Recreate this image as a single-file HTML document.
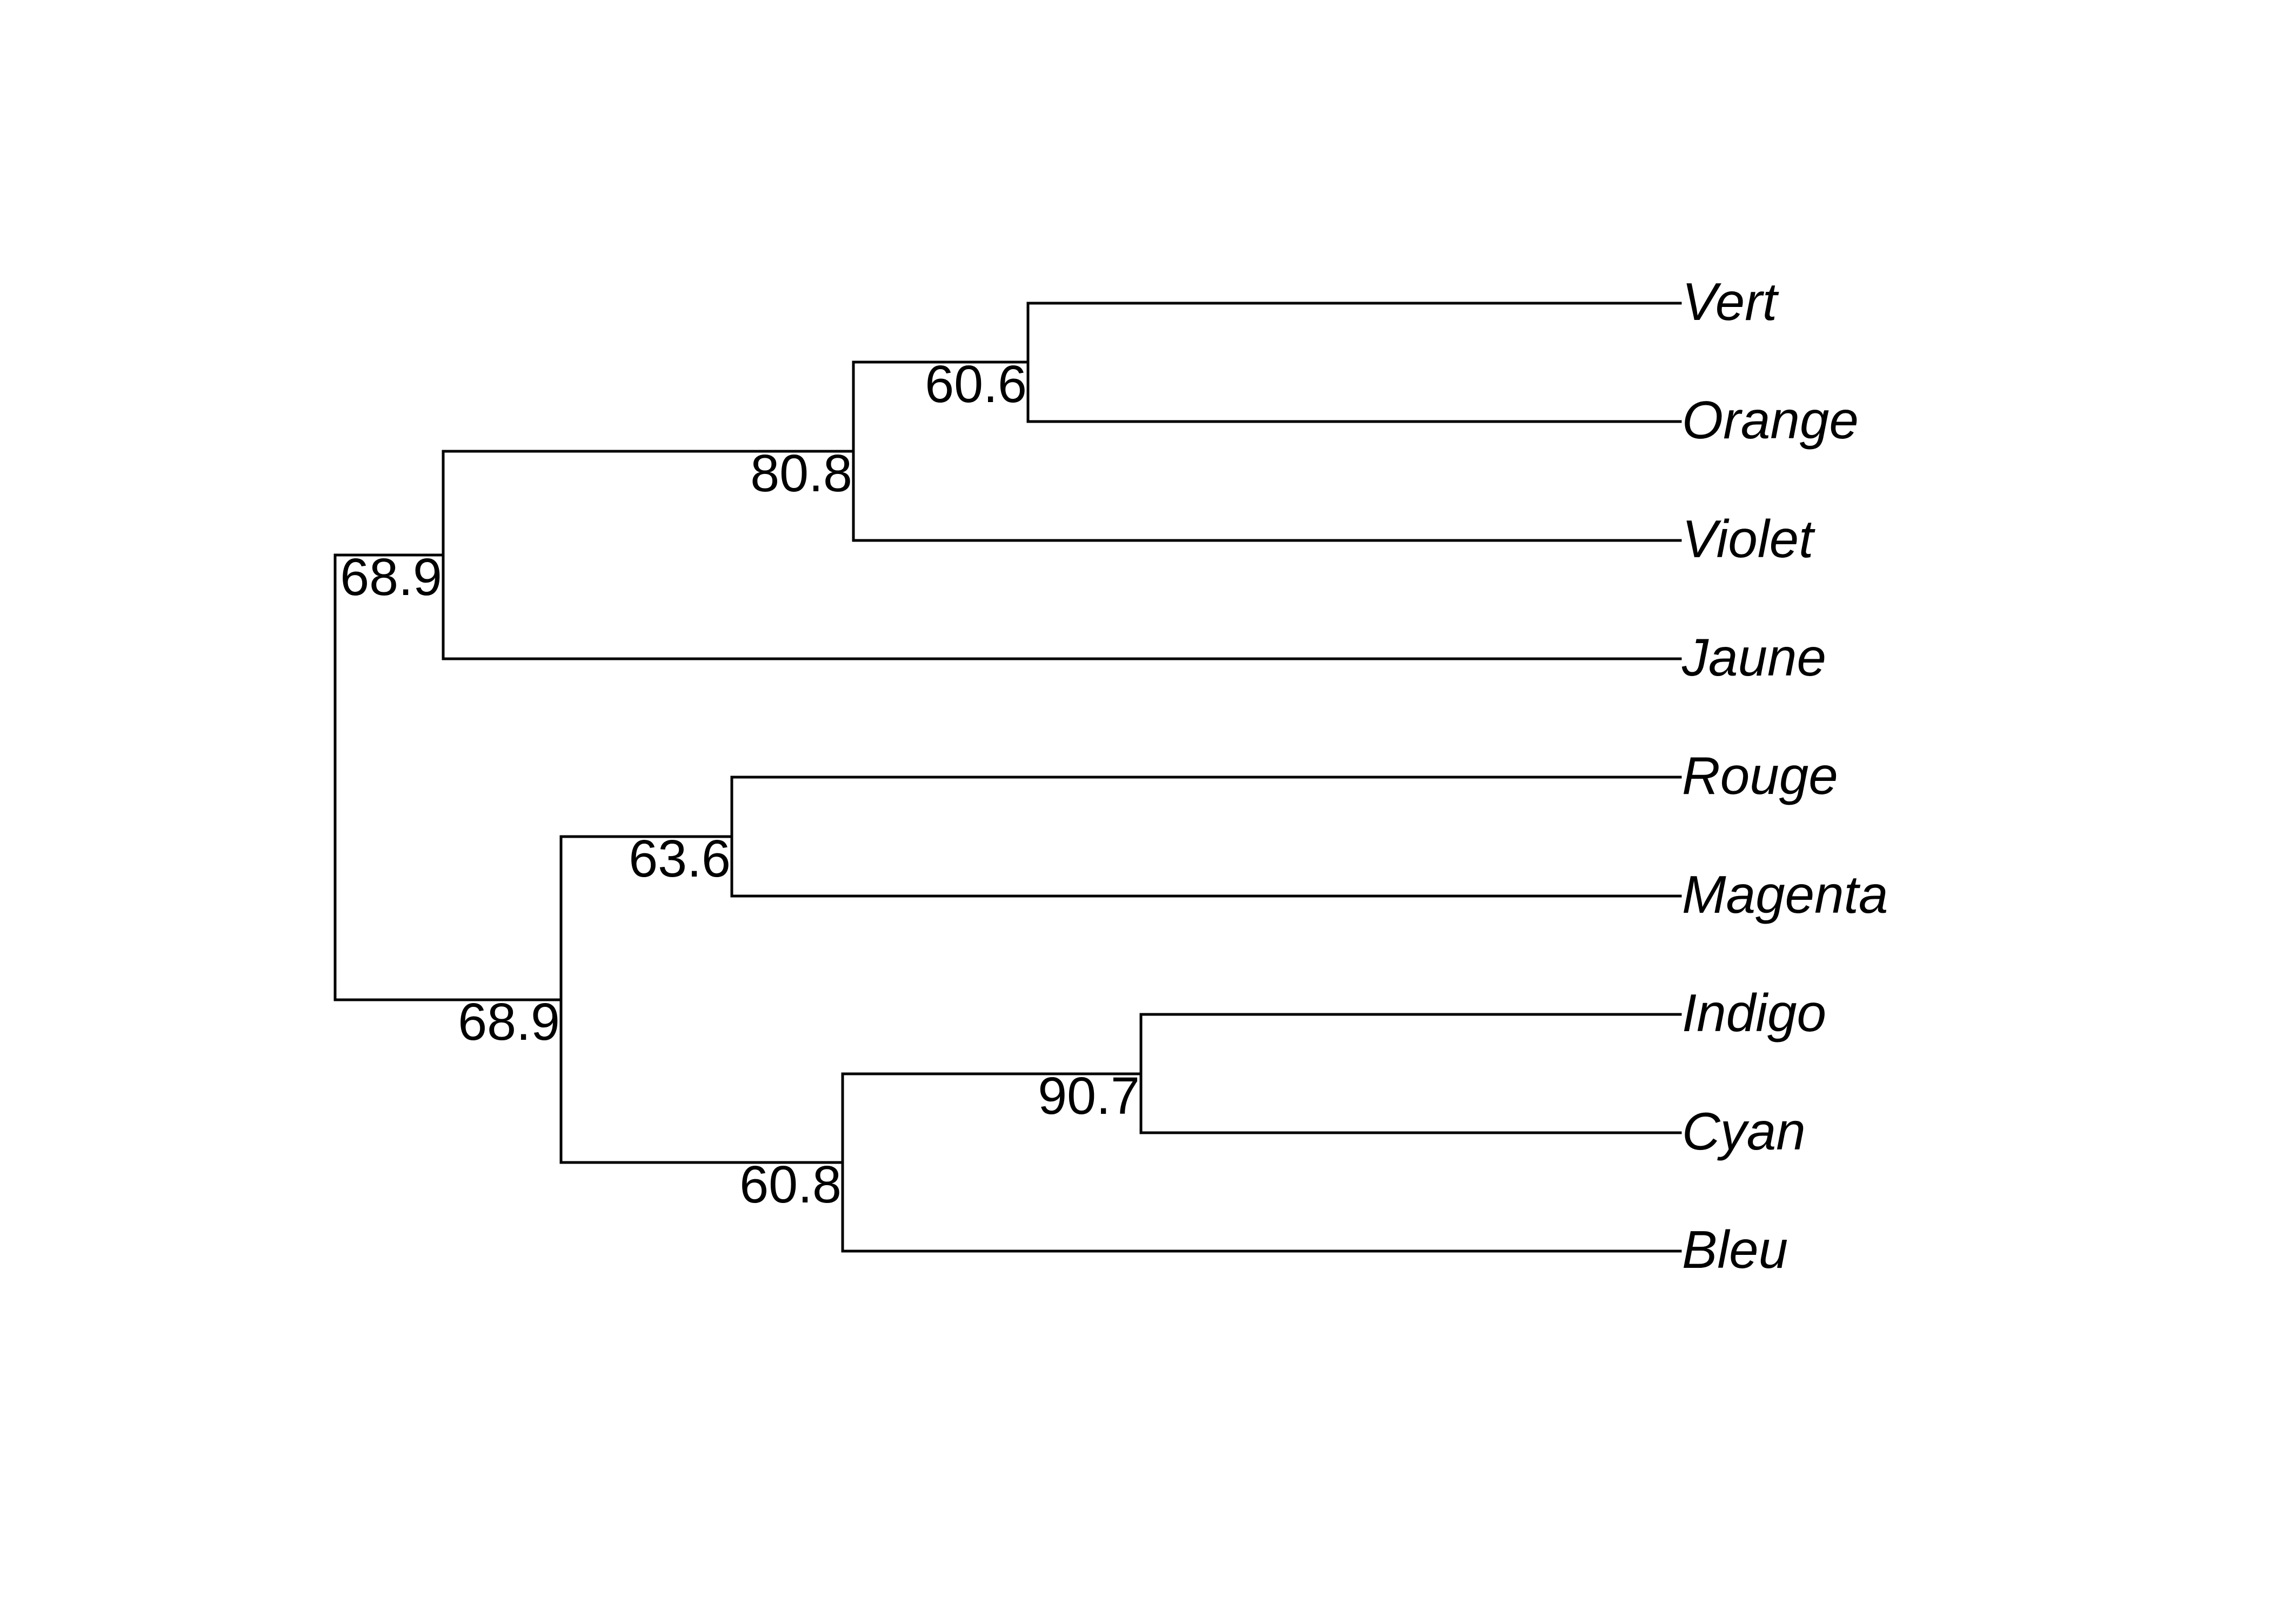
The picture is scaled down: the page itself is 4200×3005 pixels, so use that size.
<!DOCTYPE html>
<html><head><meta charset="utf-8"><style>html,body{margin:0;padding:0;background:#fff}</style></head><body>
<svg width="4200" height="3000" xmlns="http://www.w3.org/2000/svg">
<rect width="4200" height="3000" fill="#fff"/>
<g stroke="#000" stroke-width="5" fill="none" stroke-linecap="square">
<path d="M3109 561H1902V780H3109"/>
<path d="M1902 670H1579V1000H3109"/>
<path d="M1579 835H820V1219H3109"/>
<path d="M820 1027H620V1850H1038"/>
<path d="M3109 1438H1354V1658H3109"/>
<path d="M1354 1548H1038V2151H1559"/>
<path d="M3109 1877H2111V2096H3109"/>
<path d="M2111 1987H1559V2315H3109"/>
</g>
<g font-family="Liberation Sans, sans-serif" font-size="97" fill="#000" text-anchor="end">
<text x="1900" y="744">60.6</text>
<text x="1577" y="909">80.8</text>
<text x="818" y="1101">68.9</text>
<text x="1352" y="1622">63.6</text>
<text x="1036" y="1924">68.9</text>
<text x="2109" y="2061">90.7</text>
<text x="1557" y="2225">60.8</text>
</g>
<g font-family="Liberation Sans, sans-serif" font-size="98" font-style="italic" fill="#000">
<text x="3112" y="592">Vert</text>
<text x="3112" y="811">Orange</text>
<text x="3112" y="1031">Violet</text>
<text x="3112" y="1250">Jaune</text>
<text x="3112" y="1469">Rouge</text>
<text x="3112" y="1689">Magenta</text>
<text x="3112" y="1908">Indigo</text>
<text x="3112" y="2127">Cyan</text>
<text x="3112" y="2346">Bleu</text>
</g>
</svg>
</body></html>
